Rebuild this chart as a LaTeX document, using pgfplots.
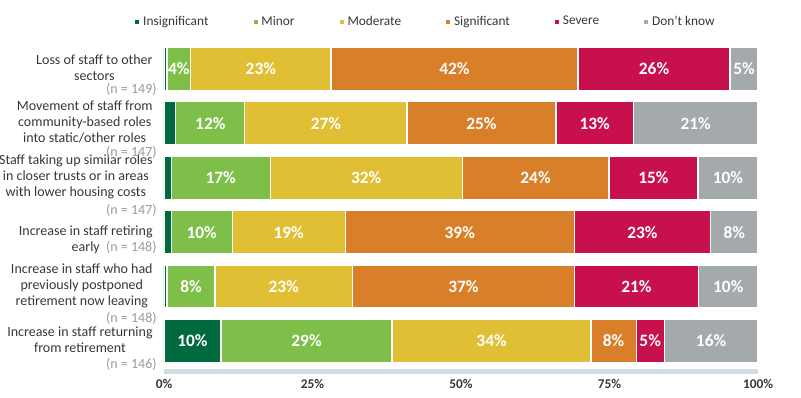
\documentclass[border=0pt]{standalone}
\usepackage{fontspec}
\setmainfont{Carlito}
\usepackage{pgfplots}
\pgfplotsset{compat=1.18}
\definecolor{cIns}{RGB}{0,105,62}
\definecolor{cMin}{RGB}{126,191,74}
\definecolor{cMod}{RGB}{225,191,53}
\definecolor{cSig}{RGB}{217,127,42}
\definecolor{cSev}{RGB}{200,17,76}
\definecolor{cDk}{RGB}{164,169,172}
\definecolor{txt}{RGB}{55,55,55}
\definecolor{ngray}{RGB}{150,156,160}
\definecolor{baseline}{RGB}{212,221,226}
\newcommand{\lab}[3]{\begin{tabular}[c]{@{}c@{}}#1\end{tabular}\rlap{\hspace{3pt}\llap{\raisebox{#2}[0pt][0pt]{\color{ngray}(n = #3)}}}}
\pgfplotsset{
  mybar/.style={fill=#1, draw=white, line width=0.9pt,
    legend image code/.code={\fill[fill=#1] (0pt,-1.9pt) rectangle (3.8pt,1.9pt);}},
}
\begin{document}
\begin{tikzpicture}
\path[use as bounding box] (-123pt,-18.75pt) rectangle (477.75pt,279pt);
\begin{axis}[
  name=main,
  xbar stacked,
  bar width=32.25pt,
  scale only axis,
  width=445.5pt, height=247.65pt,
  xmin=0, xmax=100, ymin=-0.57, ymax=5.5,
  enlargelimits=false,
  axis x line*=bottom,
  axis y line*=left,
  y axis line style={draw=none},
  x axis line style={draw=baseline, line width=3.75pt, -},
  major tick length=0pt,
  xtick={0,25,50,75,100},
  xticklabels={0\%,25\%,50\%,75\%,100\%},
  xticklabel style={font=\bfseries\fontsize{10}{12}\selectfont, text=txt, yshift=-2pt},
  ytick={0,1,2,3,4,5},
  yticklabels={{\lab{Increase in staff returning\\from retirement}{-18.2pt}{146}},{\lab{Increase in staff who had\\previously postponed\\retirement now leaving}{-24.2pt}{148}},{\begin{tabular}[c]{@{}c@{}}\\Increase in staff retiring\\early\rlap{\ \ \color{ngray}(n = 148)}\end{tabular}},{\lab{Staff taking up similar roles\\in closer trusts or in areas\\with lower housing costs}{-24.6pt}{147}},{\lab{Movement of staff from\\community-based roles\\into static/other roles}{-22.2pt}{147}},{\lab{Loss of staff to other\\sectors}{-15.6pt}{149}}},
  yticklabel style={font=\fontsize{10.5}{12}\selectfont, text=txt, xshift=-5pt},
  legend columns=6,
  legend style={draw=none, fill=none, inner sep=0pt, font=\fontsize{10}{12}\selectfont, text=txt,
    at={(-0.0505,1)}, anchor=west, yshift=15.1pt,
    /tikz/every even column/.append style={column sep=31pt}},
]
\addplot[mybar=cIns] coordinates {(0.5,5) (2.0,4) (1.2,3) (1.2,2) (0.5,1) (9.6,0)};
\addplot[mybar=cMin] coordinates {(4.0,5) (11.6,4) (16.7,3) (10.3,2) (8.1,1) (28.8,0)};
\addplot[mybar=cMod] coordinates {(23.6,5) (27.3,4) (32.3,3) (19.0,2) (23.1,1) (33.5,0)};
\addplot[mybar=cSig] coordinates {(41.6,5) (25.1,4) (24.7,3) (38.6,2) (37.4,1) (7.6,0)};
\addplot[mybar=cSev] coordinates {(25.6,5) (13.0,4) (15.0,3) (22.9,2) (20.9,1) (4.7,0)};
\addplot[mybar=cDk] coordinates {(4.7,5) (21.0,4) (10.1,3) (8.0,2) (10.0,1) (15.8,0)};
\legend{Insignificant, Minor, Moderate, Significant, Severe, Don’t know}
\end{axis}
\begin{axis}[
  scale only axis,
  width=445.5pt, height=247.65pt,
  xmin=0, xmax=100, ymin=-0.57, ymax=5.5,
  enlargelimits=false,
  hide axis,
]
\addplot[draw=none, mark=none, nodes near coords, point meta=explicit symbolic,
  nodes near coords align={center},
  every node near coord/.append style={font=\bfseries\fontsize{13}{13}\selectfont, text=white, anchor=center}]
  coordinates {
  (2.5,5) [4\%] (16.3,5) [23\%] (48.9,5) [42\%] (82.5,5) [26\%] (97.65,5) [5\%]
  (7.8,4) [12\%] (27.25,4) [27\%] (53.45,4) [25\%] (72.5,4) [13\%] (89.5,4) [21\%]
  (9.55,3) [17\%] (34.05,3) [32\%] (62.55,3) [24\%] (82.4,3) [15\%] (94.95,3) [10\%]
  (6.35,2) [10\%] (21.0,2) [19\%] (49.8,2) [39\%] (80.55,2) [23\%] (96.0,2) [8\%]
  (4.55,1) [8\%] (20.15,1) [23\%] (50.4,1) [37\%] (79.55,1) [21\%] (95.0,1) [10\%]
  (4.8,0) [10\%] (24.0,0) [29\%] (55.15,0) [34\%] (75.7,0) [8\%] (81.85,0) [5\%] (92.1,0) [16\%]
  };
\end{axis}
\end{tikzpicture}
\end{document}
